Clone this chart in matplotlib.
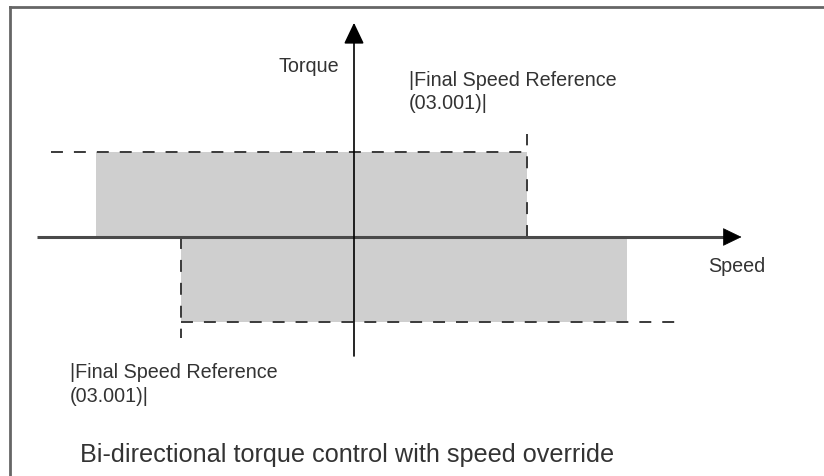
import matplotlib
matplotlib.use("Agg")
import matplotlib.pyplot as plt
from matplotlib.lines import Line2D

plt.rcParams['font.family'] = ['Liberation Sans', 'DejaVu Sans']
plt.rcParams['lines.scale_dashes'] = False

# ---- data (normalised units: speed ref = 1, torque limit = 1) ----
speed_ref = [-1.0, 1.0]              # |Final Speed Reference| (03.001)
torque_limits = [1.0, -1.0]          # upper / lower torque limit
upper_fill_speed = [-1.49, 1.0]      # shaded region, positive torque
lower_fill_speed = [-1.0, 1.58]      # shaded region, negative torque
upper_dash_speed = [-1.75, 1.0]
lower_dash_speed = [-1.0, 1.91]
ref_marker_torque = [1.21, -1.19]    # extent of vertical dashed ref lines
speed_axis = [-1.83, 2.24]
torque_axis = [-1.40, 2.52]

labels = {
    'torque': 'Torque',
    'speed': 'Speed',
    'ref': '|Final Speed Reference\n(03.001)|',
    'caption': 'Bi-directional torque control with speed override',
}

W, H = 824, 477
fig = plt.figure(figsize=(W / 100, H / 100), dpi=100)
ax = fig.add_axes([0, 0, 1, 1])
ax.set_axis_off()
ox, oy = 354, 238        # pixel location of origin
sx, sy = 173, 85         # pixels per unit
ax.set_xlim(-ox / sx, (W - ox) / sx)
ax.set_ylim(-(H - oy) / sy, oy / sy)

fill_c = '#cfcfcf'
dash_c = '#3a3a3a'
txt_c = '#333333'
dash = (0, (8.6, 7.9))

# shaded regions
ax.fill_between(upper_fill_speed, 0, torque_limits[0], color=fill_c, lw=0, zorder=1)
ax.fill_between(lower_fill_speed, torque_limits[1], 0, color=fill_c, lw=0, zorder=1)

# dashed limit lines
ax.plot(upper_dash_speed, [torque_limits[0]] * 2, color=dash_c, lw=1.4, ls=dash, zorder=2)
ax.plot(lower_dash_speed, [torque_limits[1]] * 2, color=dash_c, lw=1.4, ls=dash, zorder=2)
ax.plot([speed_ref[1]] * 2, [0, ref_marker_torque[0]], color=dash_c, lw=1.4, ls=dash, zorder=2)
ax.plot([speed_ref[0]] * 2, [0, ref_marker_torque[1]], color=dash_c, lw=1.4, ls=dash, zorder=2)

# speed axis: grey shaft + black head
head_len = 17 / sx
ax.plot([speed_axis[0], speed_axis[1] - head_len], [0, 0], color='#4a4a4a', lw=2.2,
        solid_capstyle='butt', zorder=3)
ax.annotate('', xy=(speed_axis[1], 0), xytext=(speed_axis[1] - head_len, 0),
            arrowprops=dict(arrowstyle='-|>,head_length=0.62,head_width=0.3',
                            mutation_scale=20, lw=0.5, color='black',
                            shrinkA=0, shrinkB=0),
            zorder=4)
# torque axis
ax.annotate('', xy=(0, torque_axis[1]), xytext=(0, torque_axis[0]),
            arrowprops=dict(arrowstyle='-|>,head_length=0.65,head_width=0.31',
                            mutation_scale=20, lw=1.2, color='black',
                            shrinkA=0, shrinkB=0),
            zorder=4)

# texts
fs = 14.2
ax.text(-0.434, 1.953, labels['torque'], fontsize=fs, color=txt_c, va='baseline', ha='left')
ax.text(0.318, 1.512, labels['ref'], fontsize=fs, color=txt_c, va='baseline', ha='left', linespacing=1.3)
ax.text(-1.642, -1.929, labels['ref'], fontsize=fs, color=txt_c, va='baseline', ha='left', linespacing=1.3)
ax.text(2.046, -0.40, labels['speed'], fontsize=fs, color=txt_c, va='baseline', ha='left')
ax.text(-1.584, -2.635, labels['caption'], fontsize=18.2, color=txt_c, va='baseline', ha='left')

# frame
fig.add_artist(Line2D([10 / W, 10 / W], [0, 1 - 8 / H], color='#666666', lw=2.0))
fig.add_artist(Line2D([10 / W, 1], [1 - 8 / H, 1 - 8 / H], color='#666666', lw=2.0))

fig.savefig('out.png', dpi=100)
